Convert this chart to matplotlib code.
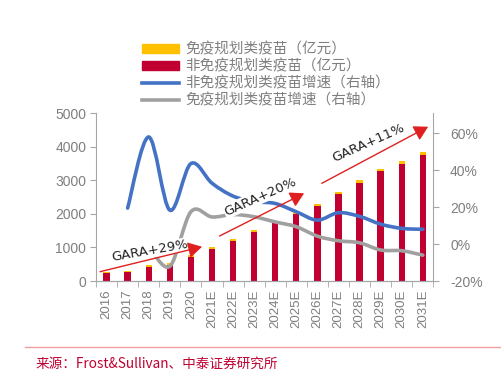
import matplotlib
matplotlib.use("Agg")
import matplotlib.pyplot as plt
from matplotlib.lines import Line2D
from matplotlib.patches import Patch, PathPatch
from matplotlib.path import Path
import numpy as np

plt.rcParams['font.family'] = ['Liberation Sans', 'Noto Sans CJK SC', 'DejaVu Sans']

years = ["2016", "2017", "2018", "2019", "2020", "2021E", "2022E", "2023E",
         "2024E", "2025E", "2026E", "2027E", "2028E", "2029E", "2030E", "2031E"]
# 亿元
non_nip = [230, 270, 430, 480, 720, 950, 1200, 1450, 1730, 2000, 2230, 2580,
           2920, 3260, 3490, 3750]
nip = [40, 40, 40, 50, 50, 50, 50, 60, 60, 70, 70, 80, 80, 80, 80, 80]
# growth, %, right axis
non_nip_growth = [None, 19.5, 58, 18.4, 43.6, 33, 26, 23, 22, 17.5, 13, 17,
                  15, 10.8, 8.5, 8]
nip_growth = [None, None, -1, -12, 17.5, 14.7, 16, 14.8, 12, 9.4, 4.3, 1.8,
              0.7, -3.2, -3.6, -6]

RED = "#C00030"
YELLOW = "#FFC000"
BLUE = "#4472C4"
GRAY = "#A0A0A0"
AXC = "#A6A6A6"
TXT = "#7F7F7F"


def smooth_path(xs, ys):
    # Excel-style smoothed line: Catmull-Rom segments as cubic Beziers
    pts = [(x, y) for x, y in zip(xs, ys) if y is not None]
    p = np.array(pts, dtype=float)
    verts = [p[0]]
    codes = [Path.MOVETO]
    n = len(p)
    for i in range(n - 1):
        p0 = p[i - 1] if i > 0 else p[i]
        p3 = p[i + 2] if i + 2 < n else p[i + 1]
        c1 = p[i] + (p[i + 1] - p0) / 6.0
        c2 = p[i + 1] - (p3 - p[i]) / 6.0
        verts += [c1, c2, p[i + 1]]
        codes += [Path.CURVE4] * 3
    return Path(verts, codes)


fig = plt.figure(figsize=(5.01, 3.78), dpi=100)
ax = fig.add_axes([0.1916, 0.2566, 0.6734, 0.4444])
ax2 = ax.twinx()

x = np.arange(len(years))
w = 0.3
ax.bar(x, non_nip, width=w, color=RED, zorder=2)
ax.bar(x, nip, width=w, bottom=non_nip, color=YELLOW, zorder=2)

ax.set_xlim(-0.5, len(years) - 0.5)
ax.set_ylim(0, 5000)
ax.set_yticks([0, 1000, 2000, 3000, 4000, 5000])
ax2.set_ylim(-20, 71)
ax2.set_yticks([-20, 0, 20, 40, 60])
ax2.set_yticklabels(["-20%", "0%", "20%", "40%", "60%"])

ax.set_xticks(x)
ax.set_xticklabels(years, rotation=90)
ax.set_xticks(np.arange(-0.5, len(years), 1.0), minor=True)
ax.tick_params(axis="x", which="major", length=0, pad=6, labelsize=9.5,
               labelcolor=TXT)
ax.tick_params(axis="x", which="minor", length=4, color=AXC, direction="out")
ax.tick_params(axis="y", length=4, color=AXC, labelsize=10, labelcolor=TXT,
               pad=3)
ax2.tick_params(axis="y", length=4, color=AXC, labelsize=10, labelcolor=TXT,
                pad=8)

for a in (ax, ax2):
    for s in a.spines.values():
        s.set_color(AXC)
    a.spines["top"].set_visible(False)
ax.spines["right"].set_visible(False)
ax2.spines["left"].set_visible(False)

ax2.add_patch(PathPatch(smooth_path(x, non_nip_growth), fill=False,
                        edgecolor=BLUE, lw=2.6, capstyle="round", zorder=3))
ax2.add_patch(PathPatch(smooth_path(x, nip_growth), fill=False,
                        edgecolor=GRAY, lw=2.6, capstyle="round", zorder=3))

# CAGR arrows (left axis units)
arrows = [((-0.31, 277), (4.53, 1020), "GARA+29%", (2.07, 895), 10),
          ((5.36, 1339), (9.37, 2610), "GARA+20%", (7.3, 2510), 24),
          ((10.21, 2908), (15.25, 4592), "GARA+11%", (12.4, 4100), 24)]
for (x0, y0), (x1, y1), label, (tx, ty), rot in arrows:
    ax2.text(tx, ty, label, transform=ax.transData, rotation=rot,
             rotation_mode="anchor", ha="center", va="center", fontsize=9.5,
             family=["Liberation Sans Narrow", "DejaVu Sans"], color="#222222",
             bbox=dict(facecolor="white", edgecolor="none", pad=0.5), zorder=5)
    ax2.annotate("", xy=(x1, y1), xytext=(x0, y0),
                 xycoords=ax.transData, textcoords=ax.transData,
                 arrowprops=dict(arrowstyle="-|>,head_length=0.7,head_width=0.4",
                                 mutation_scale=12, color="#E02020", lw=1.0,
                                 shrinkA=0, shrinkB=0),
                 zorder=6)

handles = [Patch(color=YELLOW), Patch(color=RED),
           Line2D([], [], color=BLUE, lw=2.6),
           Line2D([], [], color=GRAY, lw=2.6)]
labels = ["免疫规划类疫苗（亿元）", "非免疫规划类疫苗（亿元）",
          "非免疫规划类疫苗增速（右轴）", "免疫规划类疫苗增速（右轴）"]
leg = fig.legend(handles, labels, loc="upper left",
                 bbox_to_anchor=(0.258, 0.922), frameon=False,
                 handlelength=2.5, handleheight=0.5, labelspacing=0.2,
                 handletextpad=0.45, prop={"family": ["Noto Sans CJK SC"],
                                           "size": 10.5})
for t in leg.get_texts():
    t.set_color(TXT)

fig.add_artist(Line2D([0.05, 1.0], [0.082, 0.082], color="#F0A0A0", lw=1.0))
fig.text(0.07, 0.028, "来源：Frost&Sullivan、中泰证券研究所", color=RED,
         fontsize=9.8, family=["Noto Sans CJK SC", "DejaVu Sans"])

fig.savefig("out.png", dpi=100)
